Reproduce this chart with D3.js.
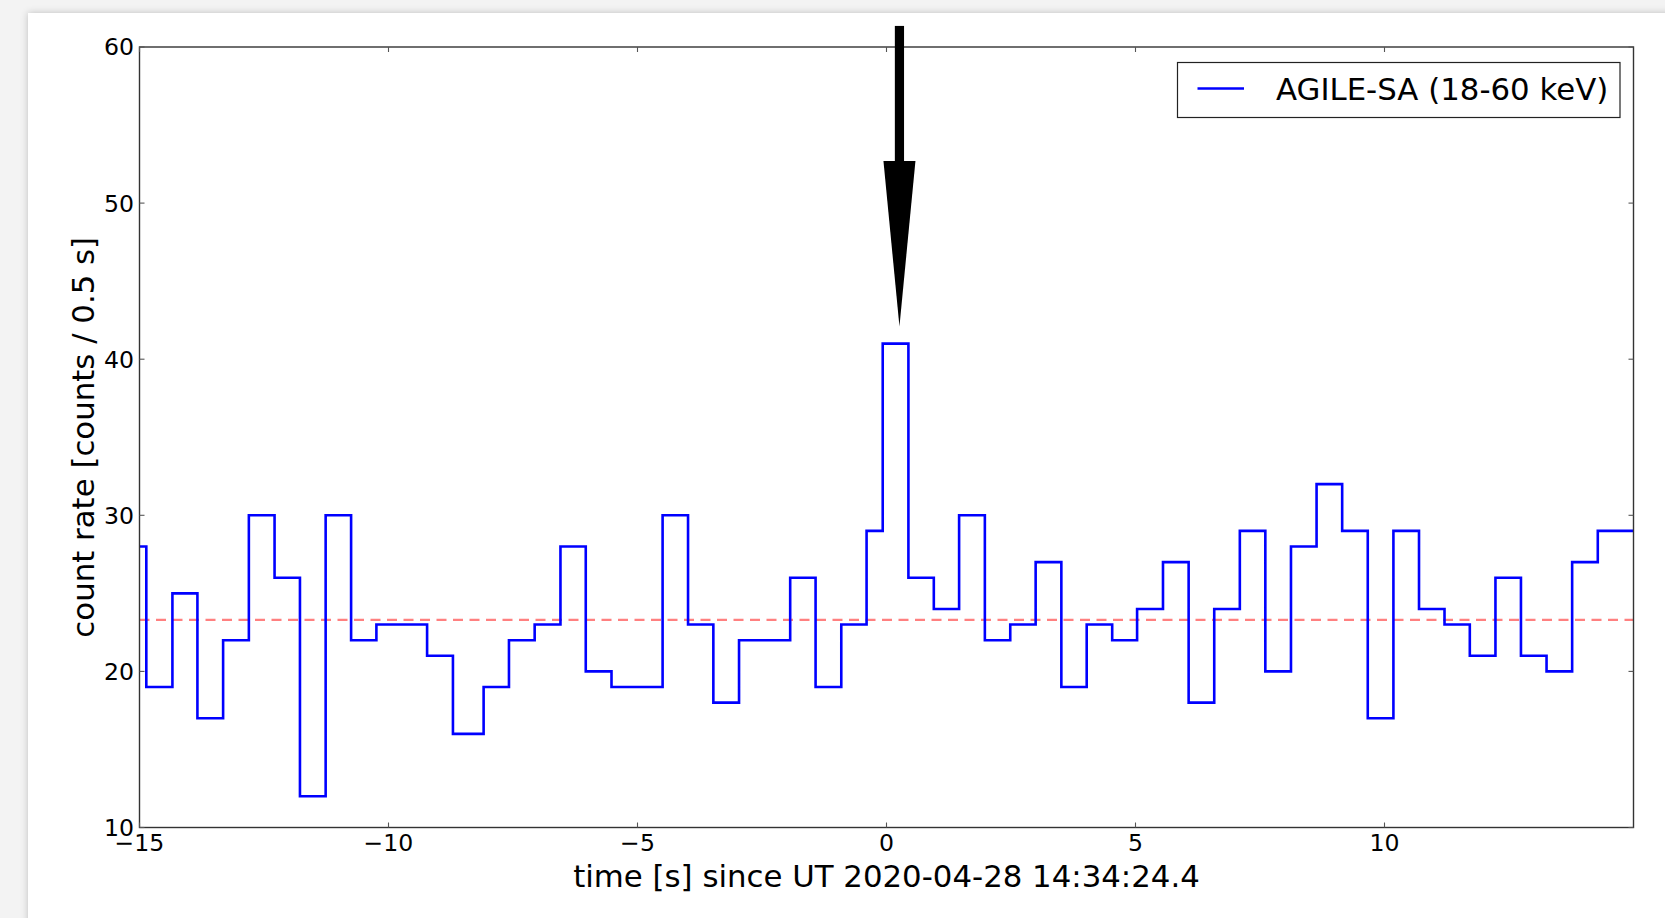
<!DOCTYPE html>
<html>
<head>
<meta charset="utf-8">
<script src="https://cdn.jsdelivr.net/npm/d3@7"></script>
<style>
  html, body { margin: 0; padding: 0; background: #f3f3f3; }
  svg { display: block; }
  text { font-family: "DejaVu Sans", sans-serif; fill: #000; }
</style>
</head>
<body>
<svg id="chart" width="1665" height="918"></svg>
<script>
// Light curve: AGILE-SA counts per bin, bin edges in seconds since trigger
const binEdges = [-15.0, -14.863, -14.339, -13.837, -13.321, -12.804, -12.288, -11.778, -11.262, -10.751,
  -10.243, -9.733, -9.225, -8.706, -8.090, -7.581, -7.065, -6.547, -6.039, -5.522,
  -5.008, -4.496, -3.985, -3.477, -2.961, -2.447, -1.934, -1.424, -0.908, -0.400,
  -0.076, 0.440, 0.950, 1.458, 1.975, 2.485, 2.995, 3.511, 4.020, 4.532,
  5.032, 5.552, 6.067, 6.581, 7.095, 7.607, 8.122, 8.636, 9.150, 9.664,
  10.179, 10.693, 11.205, 11.713, 12.228, 12.740, 13.254, 13.768, 14.283, 15.0];

const counts = [28, 19, 25, 17, 22, 30, 26, 12, 30, 22,
  23, 23, 21, 16, 19, 22, 23, 28, 20, 19,
  19, 30, 23, 18, 22, 22, 26, 19, 23, 29,
  41, 26, 24, 30, 22, 23, 27, 19, 23, 22,
  24, 27, 18, 24, 29, 20, 28, 32, 29, 17,
  29, 24, 23, 21, 26, 21, 20, 27, 29];

const backgroundLevel = 23.3;

const xTicks = [-15, -10, -5, 0, 5, 10];
const yTicks = [10, 20, 30, 40, 50, 60];

const seriesLabel = "AGILE-SA (18-60 keV)";
const xLabel = "time [s] since UT 2020-04-28 14:34:24.4";
const yLabel = "count rate [counts / 0.5 s]";

// Trigger marker (time, shaft top, arrow tip) in data units
const markerTime = 0.26;
const markerTop = 61.35;
const markerTip = 42.1;
const markerHeadBase = 52.7;

const svg = d3.select("#chart");
const W = 1665, H = 918;
const plot = { left: 139.5, right: 1633.5, top: 47, bottom: 827.5 };

// page card with soft shadow
const defs = svg.append("defs");
const f = defs.append("filter").attr("id", "card-shadow")
  .attr("x", "-5%").attr("y", "-5%").attr("width", "110%").attr("height", "110%");
f.append("feDropShadow").attr("dx", 0).attr("dy", 0)
  .attr("stdDeviation", 3.5).attr("flood-color", "#000").attr("flood-opacity", 0.22);
defs.append("clipPath").attr("id", "plot-clip")
  .append("rect").attr("x", plot.left).attr("y", plot.top)
  .attr("width", plot.right - plot.left).attr("height", plot.bottom - plot.top);

svg.append("rect").attr("x", 0).attr("y", 0).attr("width", W).attr("height", H).attr("fill", "#f3f3f3");
svg.append("rect").attr("x", 28).attr("y", 13).attr("width", W + 40).attr("height", H + 40)
  .attr("fill", "#fff").attr("filter", "url(#card-shadow)");

const x = d3.scaleLinear().domain([-15, 15]).range([plot.left, plot.right]);
const y = d3.scaleLinear().domain([10, 60]).range([plot.bottom, plot.top]);

// background level
svg.append("line")
  .attr("x1", x(-15)).attr("x2", x(15))
  .attr("y1", y(backgroundLevel)).attr("y2", y(backgroundLevel))
  .attr("stroke", "#ff8080").attr("stroke-width", 2.3)
  .attr("stroke-dasharray", "10,6.5");

// step light curve
const pts = counts.map((c, i) => [binEdges[i], c]);
pts.push([binEdges[binEdges.length - 1], counts[counts.length - 1]]);
const stepLine = d3.line().x(d => x(d[0])).y(d => y(d[1])).curve(d3.curveStepAfter);
svg.append("path")
  .attr("clip-path", "url(#plot-clip)")
  .attr("d", stepLine(pts))
  .attr("fill", "none").attr("stroke", "#0000ff").attr("stroke-width", 2.6)
  .attr("stroke-linejoin", "miter");

// axes frame
svg.append("rect")
  .attr("x", plot.left).attr("y", plot.top)
  .attr("width", plot.right - plot.left).attr("height", plot.bottom - plot.top)
  .attr("fill", "none").attr("stroke", "#333").attr("stroke-width", 1.4);

// inward ticks on all sides
const tickLen = 5;
const tickG = svg.append("g").attr("stroke", "#555").attr("stroke-width", 1.1);
xTicks.forEach(t => {
  tickG.append("line").attr("x1", x(t)).attr("x2", x(t)).attr("y1", plot.bottom).attr("y2", plot.bottom - tickLen);
  tickG.append("line").attr("x1", x(t)).attr("x2", x(t)).attr("y1", plot.top).attr("y2", plot.top + tickLen);
});
yTicks.forEach(t => {
  tickG.append("line").attr("x1", plot.left).attr("x2", plot.left + tickLen).attr("y1", y(t)).attr("y2", y(t));
  tickG.append("line").attr("x1", plot.right).attr("x2", plot.right - tickLen).attr("y1", y(t)).attr("y2", y(t));
});

// tick labels
const fmt = d => (d < 0 ? "\u2212" + Math.abs(d) : String(d));
svg.append("g").selectAll("text").data(xTicks).join("text")
  .attr("x", d => x(d)).attr("y", plot.bottom + 23.5)
  .attr("text-anchor", "middle").attr("font-size", 23.6)
  .text(fmt);
svg.append("g").selectAll("text").data(yTicks).join("text")
  .attr("x", plot.left - 5.5).attr("y", d => y(d) + 8.4)
  .attr("text-anchor", "end").attr("font-size", 23.6)
  .text(fmt);

// axis labels
svg.append("text")
  .attr("x", (plot.left + plot.right) / 2).attr("y", 886.5)
  .attr("text-anchor", "middle").attr("font-size", 30.8)
  .text(xLabel);
svg.append("text")
  .attr("transform", `translate(93.5,${(plot.top + plot.bottom) / 2}) rotate(-90)`)
  .attr("text-anchor", "middle").attr("font-size", 30.8)
  .text(yLabel);

// trigger arrow
const mx = x(markerTime);
const shaftHalf = 4.6, headHalf = 16;
svg.append("rect")
  .attr("x", mx - shaftHalf).attr("y", y(markerTop))
  .attr("width", shaftHalf * 2).attr("height", y(markerHeadBase) - y(markerTop) + 1)
  .attr("fill", "#000");
svg.append("path")
  .attr("d", `M${mx - headHalf},${y(markerHeadBase)} L${mx + headHalf},${y(markerHeadBase)} L${mx},${y(markerTip)} Z`)
  .attr("fill", "#000");

// legend
const lg = svg.append("g");
lg.append("rect").attr("x", 1177.5).attr("y", 62.5).attr("width", 442.5).attr("height", 55)
  .attr("fill", "#fff").attr("stroke", "#222").attr("stroke-width", 1.2);
lg.append("line").attr("x1", 1197.5).attr("x2", 1244).attr("y1", 88.5).attr("y2", 88.5)
  .attr("stroke", "#0000ff").attr("stroke-width", 2.6);
lg.append("text").attr("x", 1276).attr("y", 100).attr("font-size", 30.8).text(seriesLabel);
</script>
</body>
</html>
